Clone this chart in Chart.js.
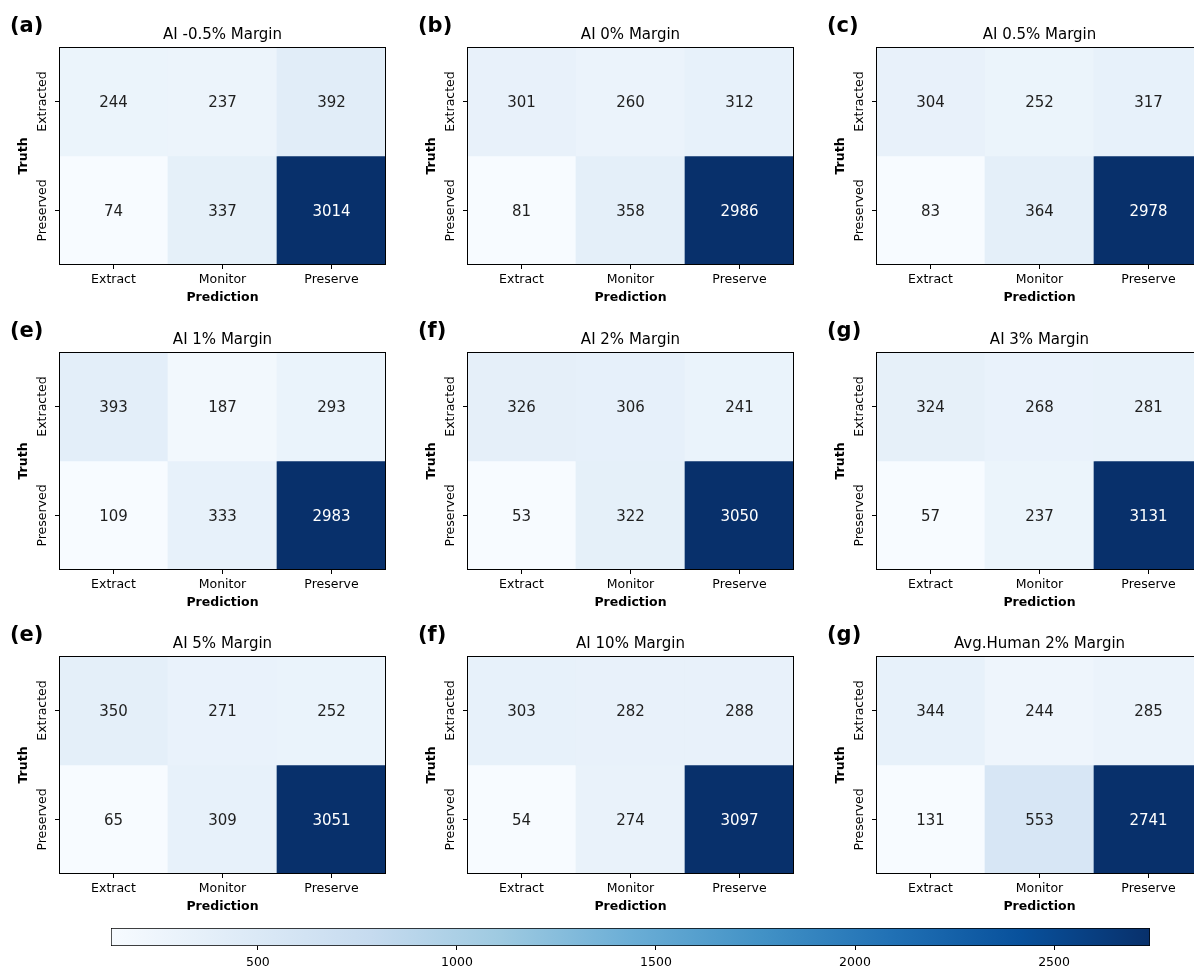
<!DOCTYPE html>
<html>
<head>
<meta charset="utf-8">
<title>Confusion matrices by margin</title>
<script src="https://cdn.jsdelivr.net/npm/chart.js@4.4.1/dist/chart.umd.min.js"></script>
<style>
  html, body { margin: 0; padding: 0; background: #ffffff; overflow: hidden; }
  #fig { position: relative; width: 1194px; height: 970px; overflow: hidden; background: #ffffff; }
  #fig canvas { position: absolute; }
</style>
</head>
<body>
<div id="fig"></div>
<script>
// ---- data -------------------------------------------------------------
const predLabels  = ['Extract', 'Monitor', 'Preserve'];
const truthLabels = ['Extracted', 'Preserved'];

const panelLetters = ['(a)', '(b)', '(c)', '(e)', '(f)', '(g)', '(e)', '(f)', '(g)'];
const panelTitles  = [
  'AI -0.5% Margin', 'AI 0% Margin', 'AI 0.5% Margin',
  'AI 1% Margin', 'AI 2% Margin', 'AI 3% Margin',
  'AI 5% Margin', 'AI 10% Margin', 'Avg.Human 2% Margin'
];

// rows: truth (Extracted, Preserved); columns: prediction (Extract, Monitor, Preserve)
const cmAiNeg05 = [[244, 237, 392], [74, 337, 3014]];
const cmAi0     = [[301, 260, 312], [81, 358, 2986]];
const cmAi05    = [[304, 252, 317], [83, 364, 2978]];
const cmAi1     = [[393, 187, 293], [109, 333, 2983]];
const cmAi2     = [[326, 306, 241], [53, 322, 3050]];
const cmAi3     = [[324, 268, 281], [57, 237, 3131]];
const cmAi5     = [[350, 271, 252], [65, 309, 3051]];
const cmAi10    = [[303, 282, 288], [54, 274, 3097]];
const cmHuman2  = [[344, 244, 285], [131, 553, 2741]];

const matrices = [cmAiNeg05, cmAi0, cmAi05, cmAi1, cmAi2, cmAi3, cmAi5, cmAi10, cmHuman2];

const colorbarRange = [131, 2741];
const colorbarTicks = [500, 1000, 1500, 2000, 2500];

// ---- styling ----------------------------------------------------------
const FONT = "'DejaVu Sans', 'Liberation Sans', sans-serif";
Chart.defaults.font.family = FONT;
Chart.defaults.color = '#000000';

// "Blues" sequential palette
const BLUES = ['#f7fbff', '#deebf7', '#c6dbef', '#9ecae1', '#6baed6',
               '#4292c6', '#2171b5', '#08519c', '#08306b'];

function hexToRgb(h) {
  const n = parseInt(h.slice(1), 16);
  return [(n >> 16) & 255, (n >> 8) & 255, n & 255];
}
const BLUES_RGB = BLUES.map(hexToRgb);

function blues(t) {
  t = Math.max(0, Math.min(1, t));
  const p = t * (BLUES_RGB.length - 1);
  const i = Math.min(Math.floor(p), BLUES_RGB.length - 2);
  const f = p - i;
  const a = BLUES_RGB[i], b = BLUES_RGB[i + 1];
  const c = a.map((v, k) => Math.round(v + (b[k] - v) * f));
  return `rgb(${c[0]}, ${c[1]}, ${c[2]})`;
}

// grid geometry (plot-area origins)
const COL_LEFT = [59, 467, 876];
const ROW_TOP  = [47, 352, 656];
const AXIS_W = 59;     // room left of the plot area
const AXIS_H = 45;     // room below the plot area
const TOP_PAD = 47;    // room above the plot area
const RIGHT_PAD = 22;
const PLOT_W = 327, PLOT_H = 218;

const fig = document.getElementById('fig');

// draws cell values, frame, panel title/letter and the rotated row labels
const heatmapDecor = {
  id: 'heatmapDecor',
  afterDatasetsDraw(chart) {
    const { ctx, chartArea: ca } = chart;
    const meta = chart.options.plugins.heatmapDecor;
    const yScale = chart.scales.y;

    ctx.save();
    // cell annotations
    ctx.font = `15px ${FONT}`;
    ctx.textAlign = 'center';
    ctx.textBaseline = 'alphabetic';
    chart.data.datasets.forEach((ds, di) => {
      const elems = chart.getDatasetMeta(di).data;
      ds.values.forEach((v, ci) => {
        const el = elems[ci];
        const { x, y } = el.getCenterPoint();
        ctx.fillStyle = v > meta.threshold ? '#ffffff' : '#1f1f1f';
        ctx.fillText(String(v), x, y + 5.5);
      });
    });

    // frame
    ctx.strokeStyle = '#000000';
    ctx.lineWidth = 1;
    ctx.strokeRect(Math.round(ca.left) + 0.5, Math.round(ca.top) + 0.5,
                   Math.round(ca.right - ca.left) - 1, Math.round(ca.bottom - ca.top) - 1);

    // subplot title
    ctx.fillStyle = '#000000';
    ctx.font = `15px ${FONT}`;
    ctx.textAlign = 'center';
    ctx.fillText(meta.title, (ca.left + ca.right) / 2, ca.top - 8);

    // panel letter
    ctx.font = `bold 21px ${FONT}`;
    ctx.textAlign = 'left';
    ctx.fillText(meta.letter, ca.left - 49, ca.top - 15);

    // rotated row labels
    ctx.font = `12.5px ${FONT}`;
    ctx.textAlign = 'center';
    truthLabels.forEach((lab, ri) => {
      const y = yScale.getPixelForValue(ri);
      ctx.save();
      ctx.translate(ca.left - 13.5, y);
      ctx.rotate(-Math.PI / 2);
      ctx.fillText(lab, 0, 0);
      ctx.restore();
    });
    ctx.restore();
  }
};

function makePanel(idx) {
  const r = Math.floor(idx / 3), c = idx % 3;
  const cv = document.createElement('canvas');
  const W = AXIS_W + PLOT_W + RIGHT_PAD, H = TOP_PAD + PLOT_H + AXIS_H;
  cv.width = W; cv.height = H;
  cv.style.width = W + 'px'; cv.style.height = H + 'px';
  cv.style.left = (COL_LEFT[c] - AXIS_W) + 'px';
  cv.style.top = (ROW_TOP[r] - TOP_PAD) + 'px';
  fig.appendChild(cv);

  const m = matrices[idx];
  const flat = m.flat();
  const lo = Math.min(...flat), hi = Math.max(...flat);

  const datasets = m.map((row, ri) => ({
    data: row.map(() => [ri - 0.5, ri + 0.5]),
    values: row,
    backgroundColor: row.map(v => blues((v - lo) / (hi - lo))),
    borderWidth: 0,
    barPercentage: 1,
    categoryPercentage: 1,
    grouped: false
  }));

  new Chart(cv, {
    type: 'bar',
    data: { labels: predLabels, datasets },
    options: {
      responsive: false,
      animation: false,
      devicePixelRatio: 1,
      layout: { padding: { top: TOP_PAD, right: RIGHT_PAD, left: 0, bottom: 0 } },
      plugins: {
        legend: { display: false },
        tooltip: { enabled: false },
        title: { display: false },
        heatmapDecor: {
          title: panelTitles[idx],
          letter: panelLetters[idx],
          threshold: (lo + hi) / 2
        }
      },
      scales: {
        x: {
          type: 'category',
          offset: true,
          grid: { offset: false, drawOnChartArea: false, drawTicks: true, tickLength: 4, color: '#000000', lineWidth: 1 },
          border: { display: false },
          ticks: { font: { size: 12.5 }, color: '#000000', padding: 3.5, minRotation: 0, maxRotation: 0, autoSkip: false },
          title: { display: true, text: 'Prediction', color: '#000000',
                   font: { size: 12.5, weight: 'bold' }, padding: { top: 0, bottom: 5 } },
          afterFit: s => { s.height = AXIS_H; }
        },
        y: {
          type: 'linear',
          reverse: true,
          min: -0.5,
          max: 1.5,
          afterBuildTicks: s => { s.ticks = truthLabels.map((_, i) => ({ value: i })); },
          grid: { drawOnChartArea: false, drawTicks: true, tickLength: 4, color: '#000000', lineWidth: 1 },
          border: { display: false },
          ticks: { display: false },
          title: { display: true, text: 'Truth', color: '#000000',
                   font: { size: 12.5, weight: 'bold' }, padding: { top: 16, bottom: 0 } },
          afterFit: s => { s.width = AXIS_W; }
        }
      }
    },
    plugins: [heatmapDecor]
  });
}

matrices.forEach((_, i) => makePanel(i));

// ---- shared colorbar --------------------------------------------------
(function makeColorbar() {
  const cv = document.createElement('canvas');
  const W = 1194, H = 70;
  cv.width = W; cv.height = H;
  cv.style.width = W + 'px'; cv.style.height = H + 'px';
  cv.style.left = '0px';
  cv.style.top = '900px';
  fig.appendChild(cv);

  new Chart(cv, {
    type: 'bar',
    data: {
      labels: [''],
      datasets: [{
        data: [colorbarRange.slice()],
        backgroundColor: (ctx) => {
          const chart = ctx.chart;
          if (!chart.chartArea) return BLUES[0];
          const xs = chart.scales.x;
          const g = chart.ctx.createLinearGradient(
            xs.getPixelForValue(colorbarRange[0]), 0,
            xs.getPixelForValue(colorbarRange[1]), 0);
          BLUES.forEach((col, i) => g.addColorStop(i / (BLUES.length - 1), col));
          return g;
        },
        borderColor: '#000000',
        borderWidth: 1,
        borderSkipped: false,
        barPercentage: 1,
        categoryPercentage: 1
      }]
    },
    options: {
      indexAxis: 'y',
      responsive: false,
      animation: false,
      devicePixelRatio: 1,
      layout: { padding: { left: 111, right: 44, top: 28, bottom: 0 } },
      plugins: { legend: { display: false }, tooltip: { enabled: false } },
      scales: {
        x: {
          type: 'linear',
          min: colorbarRange[0],
          max: colorbarRange[1],
          afterBuildTicks: s => { s.ticks = colorbarTicks.map(v => ({ value: v })); },
          grid: { drawOnChartArea: false, drawTicks: true, tickLength: 4, color: '#000000' },
          border: { display: false },
          ticks: { font: { size: 12.5 }, color: '#000000', padding: 5,
                   minRotation: 0, maxRotation: 0, callback: v => String(v) },
          afterFit: s => { s.height = 24; }
        },
        y: { display: false }
      }
    }
  });
})();
</script>
</body>
</html>
